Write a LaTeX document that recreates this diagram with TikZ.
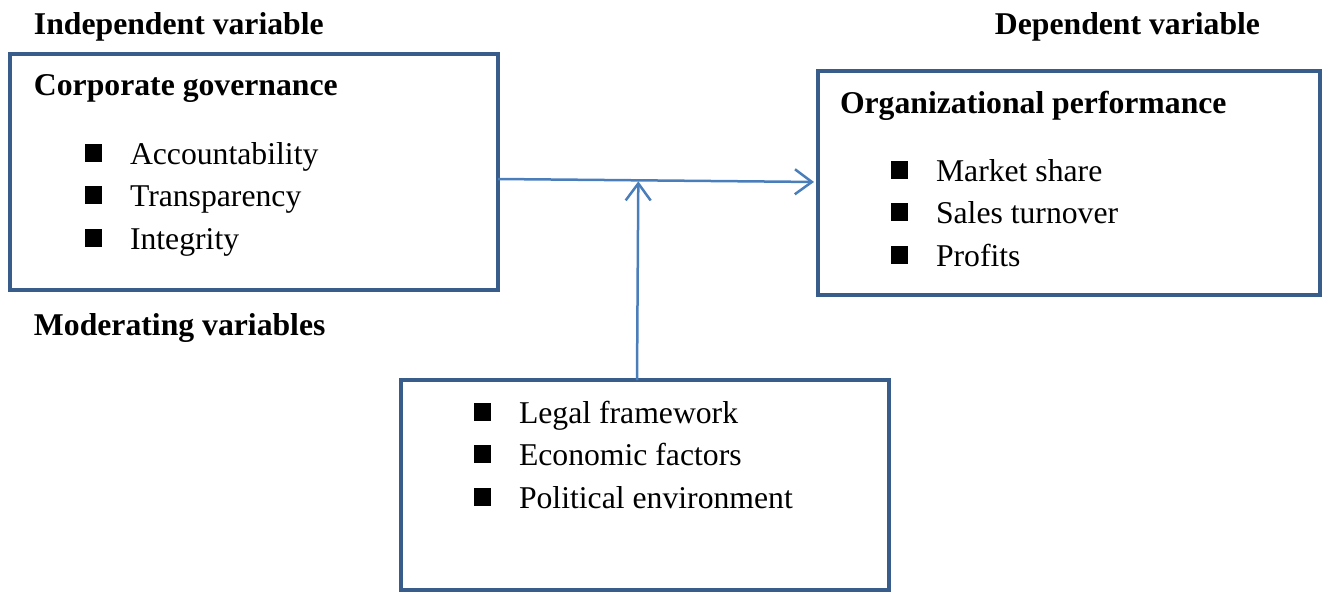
\documentclass[tikz,border=0pt]{standalone}
\usepackage{fontspec}
\setmainfont{Liberation Serif}
\usetikzlibrary{arrows.meta,calc}
\definecolor{boxline}{HTML}{385D8A}
\definecolor{linkline}{HTML}{4A7EBB}
\newcommand{\bul}{\makebox[45pt][l]{\raisebox{2pt}{\rule{17pt}{18pt}}}}
\begin{document}
\begin{tikzpicture}[x=1pt,y=-1pt,
  every node/.style={inner sep=0pt,outer sep=0pt,font=\fontsize{31.7}{38}\selectfont},
  frame/.style={draw=boxline,line width=4pt,rectangle,anchor=north west},
  head/.style={anchor=base west,font=\fontsize{31.7}{38}\selectfont\bfseries},
  item/.style={anchor=base west},
  link/.style={draw=linkline,line width=2.5pt,-{Straight Barb[length=17pt,width=25pt,line width=2.5pt]}}]
\useasboundingbox (0,0) rectangle (1323,592);
% boxes
\node[frame,minimum width=488pt,minimum height=236pt] (cg) at (10,54) {};
\node[frame,minimum width=502pt,minimum height=224pt] (op) at (818,71) {};
\node[frame,minimum width=488pt,minimum height=210pt] (mv) at (401,380) {};
% headings
\node[head] (ivar) at (34,34) {Independent variable};
\node[head,anchor=base east] (dvar) at (1260,34) {Dependent variable};
\node[head] (mvar) at (34,335) {Moderating variables};
\node[head] (cgt) at (34,95) {Corporate governance};
\node[head] (opt) at (840,113) {Organizational performance};
% corporate governance items
\node[item] (cg1) at (85,164) {\bul Accountability};
\node[item] (cg2) at (85,206) {\bul Transparency};
\node[item] (cg3) at (85,249) {\bul Integrity};
% performance items
\node[item] (op1) at (891,181) {\bul Market share};
\node[item] (op2) at (891,223) {\bul Sales turnover};
\node[item] (op3) at (891,266) {\bul Profits};
% moderating items
\node[item] (mv1) at (474,423) {\bul Legal framework};
\node[item] (mv2) at (474,465) {\bul Economic factors};
\node[item] (mv3) at (474,508) {\bul Political environment};
% connectors
\coordinate (s) at ([yshift=-7pt]cg.east);
\coordinate (t) at ([yshift=1pt]op.west);
\coordinate (m) at ($(s)!0.4385!(t)$);
\draw[link,shorten >=4pt] (s) -- (t);
\draw[link,shorten >=1pt] ([xshift=-8pt]mv.north) -- (m);
\end{tikzpicture}
\end{document}
